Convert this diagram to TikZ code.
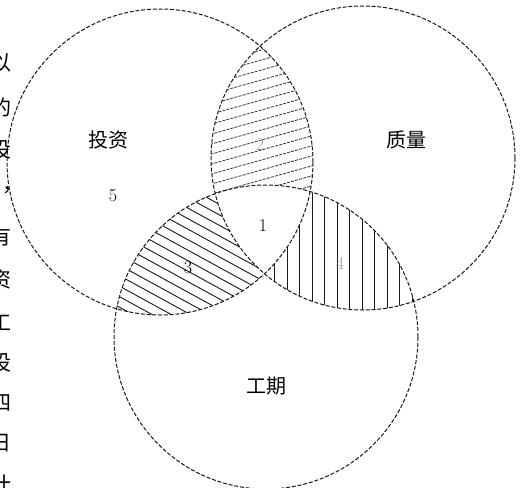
\documentclass[tikz,border=0pt]{standalone}
\usepackage{fontspec}
\newfontfamily\cjk{Noto Sans CJK SC}
\begin{document}
\begin{tikzpicture}[x=1pt,y=-1pt,
  ring/.style={draw=black!90,line width=1pt,dash pattern=on 4pt off 1.8pt},
  hatchA/.style={draw=black!80,line width=0.8pt,dash pattern=on 3pt off 1.2pt},
  hatchB/.style={draw=black!90,line width=0.9pt},
  lab/.style={font=\cjk\fontsize{20}{20}\selectfont,inner sep=0pt},
  num/.style={font=\fontsize{18}{18}\selectfont,inner sep=0pt},
  edge/.style={font=\cjk\fontsize{21}{21}\selectfont,inner sep=0pt,anchor=east}]
\useasboundingbox (0,0) rectangle (527,487);
\fill[white] (0,0) rectangle (527,487);
\clip (0,0) rectangle (527,487);
\def\Lc{(160,162) circle[radius=153pt]}
\def\Rc{(363,158) circle[radius=152pt]}
\def\Bc{(266,337) circle[radius=152pt]}
% region 2: left & right, outside bottom
\begin{scope}
  \clip \Lc; \clip \Rc;
  \foreach \k in {0,...,28} \draw[hatchA] (190,20+10*\k) -- (340,20+10*\k-42);
  \fill[white] \Bc;
\end{scope}
% region 3: left & bottom, outside right
\begin{scope}
  \clip \Lc; \clip \Bc;
  \foreach \k in {0,...,30} \draw[hatchB] (90,60+10.5*\k) -- (340,60+10.5*\k+137);
  \fill[white] \Rc;
\end{scope}
% region 4: right & bottom, outside left
\begin{scope}
  \clip \Rc; \clip \Bc;
  \foreach \k in {0,...,14} \draw[hatchB] (262+12.5*\k,170) -- (262+12.5*\k,330);
  \fill[white] \Lc;
\end{scope}
\draw[ring] \Lc;
\draw[ring] \Rc;
\draw[ring] \Bc;
\node[lab] (tz) at (108,140) {投资};
\node[lab] (zl) at (406,140) {质量};
\node[lab] (gq) at (266,386) {工期};
\node[num] (n5) at (113,196) {5};
\node[num] (n1) at (263,226) {1};
\node[num] (n3) at (188,268) {3};
\node[num,text=black!40] (n2) at (260,145) {2};
\node[num,text=black!40] (n4) at (340,263) {4};
% cut-off column of page text at the left edge
\node[edge] (e1) at (12,63) {以};
\node[edge] (e2) at (12,107) {的};
\node[edge] (e3) at (12,150) {投};
\node[edge] (e4) at (24,190) {，};
\node[edge] (e5) at (12,237) {有};
\node[edge] (e6) at (12,280) {资};
\node[edge] (e7) at (12,323) {工};
\node[edge] (e8) at (12,363) {设};
\node[edge] (e9) at (12,403) {四};
\node[edge] (e10) at (12,443) {日};
\node[edge] (e11) at (12,485) {计};
\end{tikzpicture}
\end{document}
